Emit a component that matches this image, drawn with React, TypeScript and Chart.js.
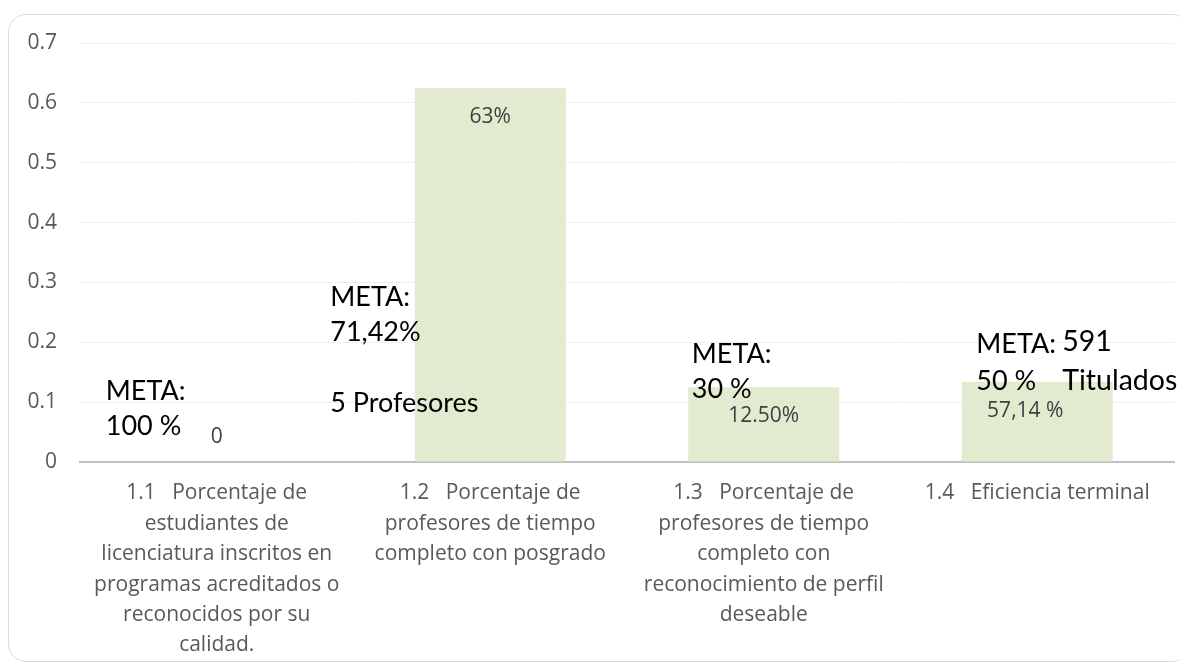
import React, { useEffect, useRef } from 'react';
import { Chart, registerables } from 'chart.js';

Chart.register(...registerables);

const categories: string[][] = [
  ['1.1   Porcentaje de', 'estudiantes de', 'licenciatura inscritos en', 'programas acreditados o', 'reconocidos por su', 'calidad.'],
  ['1.2   Porcentaje de', 'profesores de tiempo', 'completo con posgrado'],
  ['1.3   Porcentaje de', 'profesores de tiempo', 'completo con', 'reconocimiento de perfil', 'deseable'],
  ['1.4   Eficiencia terminal'],
];
const values: number[] = [0, 0.625, 0.125, 0.134];
const valueLabels: string[] = ['0', '63%', '12.50%', '57,14 %'];
const yTickValues: number[] = [0, 0.1, 0.2, 0.3, 0.4, 0.5, 0.6, 0.7];
const metaTexts: string[][] = [
  ['META:', '100 %'],
  ['META:', '71,42%', '', '5 Profesores'],
  ['META:', '30 %'],
  ['META:', '50 %'],
];
const extraTexts: string[] = ['591', 'Titulados'];

// layout of the annotations (pixel offsets from category centre, px)
const metaLayout = [
  { dx: -111, top: 391, line: 35 },
  { dx: -160, top: 297, line: 35.5 },
  { dx: -72, top: 354, line: 35 },
  { dx: -61, top: 344, line: 37 },
];

const annotPlugin = {
  id: 'annot',
  afterDatasetsDraw(chart: any) {
    const { ctx, scales } = chart;
    const x = scales.x;
    const y = scales.y;
    const meta = chart.getDatasetMeta(0);
    ctx.save();
    ctx.font = '21px "Open Sans"';
    ctx.fillStyle = '#404040';
    ctx.textAlign = 'center';
    ctx.textBaseline = 'middle';
    meta.data.forEach((bar: any, i: number) => {
      const v = values[i];
      const ly = v === 0 ? bar.y - 25 : bar.y + 29;
      const lx = i === 3 ? bar.x - 12 : bar.x;
      ctx.fillText(valueLabels[i], lx, ly);
    });
    ctx.font = '27px Lato';
    ctx.fillStyle = '#000000';
    ctx.textAlign = 'left';
    const off = y.getPixelForValue(0) - 462;
    metaTexts.forEach((lines, i) => {
      const cx = x.getPixelForValue(i);
      const lay = metaLayout[i];
      lines.forEach((t, j) => {
        ctx.fillText(t, cx + lay.dx, lay.top + j * lay.line + off);
      });
    });
    const cx3 = x.getPixelForValue(3);
    ctx.font = '28.5px Lato';
    extraTexts.forEach((t, j) => {
      ctx.fillText(t, cx3 + 25, 342 + j * 39 + off);
    });
    ctx.restore();
  },
};

export default function App() {
  const ref = useRef<HTMLCanvasElement | null>(null);
  useEffect(() => {
    document.body.style.overflow = 'hidden';
    const c = ref.current!;
    const chart = new Chart(c, {
      type: 'bar',
      data: {
        labels: categories,
        datasets: [
          {
            data: values,
            backgroundColor: '#e2ead0',
            borderWidth: 0,
            barPercentage: 0.552,
            categoryPercentage: 1,
          },
        ],
      },
      options: {
        animation: false,
        responsive: false,
        maintainAspectRatio: false,
        layout: { padding: { top: 28, right: 15, left: 0, bottom: 0 } },
        plugins: { legend: { display: false }, tooltip: { enabled: false } },
        scales: {
          x: {
            grid: { display: false },
            border: { display: true, color: '#bfbfbf', width: 2 },
            ticks: {
              color: '#595959',
              font: { family: '"Open Sans"', size: 21, lineHeight: 1.45 },
              maxRotation: 0,
              autoSkip: false,
              padding: 8,
            },
            afterFit: (s: any) => {
              s.height = 199;
            },
          },
          y: {
            min: 0,
            max: 0.7,
            afterBuildTicks: (s: any) => {
              s.ticks = yTickValues.map((v) => ({ value: v }));
            },
            grid: {
              color: '#efefef',
              lineWidth: 1,
              drawTicks: true,
              tickLength: 23,
              tickColor: 'rgba(0,0,0,0)',
            },
            border: { display: false },
            ticks: {
              color: '#595959',
              font: { family: '"Open Sans"', size: 21 },
              padding: 0,
              callback: (v: any) => String(Number(v)),
            },
            afterFit: (s: any) => {
              s.width = 71;
            },
          },
        },
      },
      plugins: [annotPlugin],
    });
    return () => chart.destroy();
  }, []);
  return (
    <div
      style={{
        position: 'relative',
        marginTop: 6,
        width: 1182,
        height: 648,
        boxSizing: 'border-box',
        border: '1px solid #d9d9d9',
        borderRadius: 18,
        background: '#fff',
      }}
    >
      <canvas ref={ref} width={1180} height={646} style={{ display: 'block' }} />
    </div>
  );
}
